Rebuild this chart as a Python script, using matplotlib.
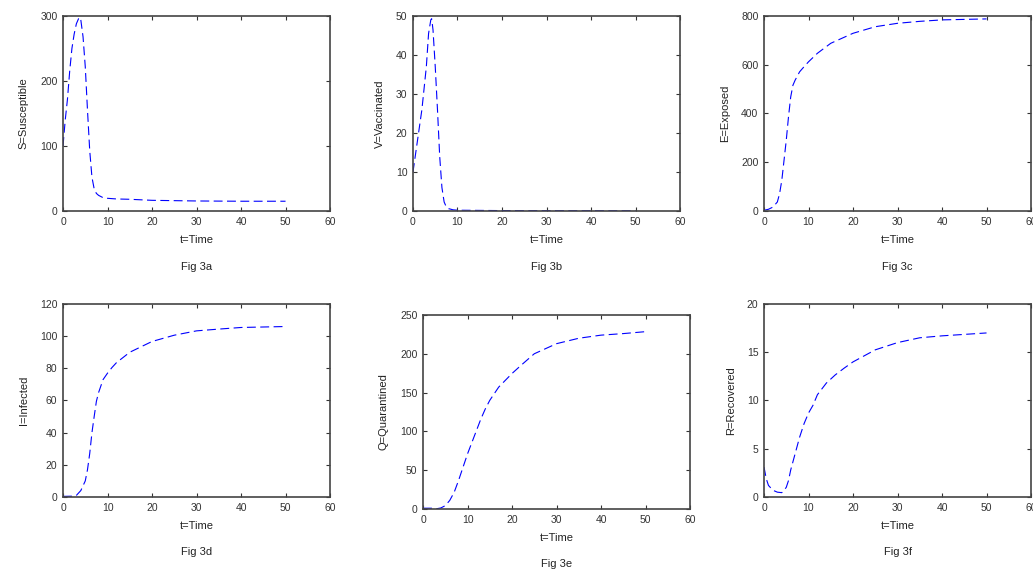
import matplotlib.pyplot as plt
import numpy as np

plt.rcParams['font.family'] = ['Liberation Sans', 'DejaVu Sans']

# valores
t_s = [0, 0.5, 1, 1.5, 2, 2.5, 3, 3.5, 3.8, 4, 4.5, 5, 5.5, 6, 6.5, 7, 7.5, 8, 9, 10, 12, 15, 20, 30, 40, 50]
s_vals = [100, 140, 172, 215, 250, 272, 288, 296, 298, 294, 268, 222, 155, 93, 52, 34, 27, 24, 20.5, 19.5, 18.5, 18, 16.4, 15.4, 15, 15]

t_v = [0, 0.5, 1, 2, 3, 3.5, 4, 4.2, 4.5, 5, 5.5, 6, 6.5, 7, 7.5, 8, 9, 10, 15, 20, 30, 40, 50]
v_vals = [10, 14, 18, 26, 37, 45.5, 49, 49.3, 46.4, 37, 26, 14, 6, 2.3, 1, 0.6, 0.3, 0.2, 0.15, 0.1, 0.08, 0.06, 0.05]

t_e = [0, 1, 2, 3, 3.5, 4, 4.5, 5, 5.5, 6, 6.5, 7, 8, 9, 10, 12, 15, 20, 25, 30, 35, 40, 50]
e_vals = [3, 7, 16, 37, 71, 126, 208, 290, 386, 468, 516, 537, 571, 592, 612, 647, 688, 729, 756, 770, 778, 784, 788]

t_i = [0, 2, 3, 4, 5, 5.5, 6, 6.5, 7, 7.5, 8, 9, 10, 11, 12, 15, 20, 25, 30, 35, 40, 50]
i_vals = [0.4, 0.5, 1, 4, 10, 17, 27, 40, 50, 59.5, 65, 73, 77, 80.5, 83.5, 90, 96.7, 100.6, 103.3, 104.4, 105.4, 106]

t_q = [0, 2, 3, 4, 5, 6, 7, 8, 9, 10, 11, 12, 13, 14, 15, 17, 20, 22, 25, 30, 35, 40, 45, 50]
q_vals = [1, 1, 0.3, 1.3, 4.3, 11, 21.5, 37, 54, 71, 86, 101, 116, 129, 140, 157, 174.6, 185, 200, 213, 220, 224, 226, 228.5]

t_r = [0, 0.5, 1, 2, 3, 4, 4.5, 5, 5.5, 6, 7, 8, 9, 10, 11, 12, 14, 16, 18, 20, 25, 30, 35, 40, 50]
r_vals = [3.1, 1.9, 1.2, 0.7, 0.5, 0.45, 0.7, 1.0, 1.7, 2.8, 4.5, 6.2, 7.6, 8.7, 9.5, 10.6, 11.8, 12.65, 13.35, 14, 15.25, 16, 16.5, 16.7, 17]

paineis = [
    (t_s, s_vals, 'S=Susceptible', 'Fig 3a', [0, 100, 200, 300], 300, [0.061, 0.6305, 0.2585, 0.3415]),
    (t_v, v_vals, 'V=Vaccinated', 'Fig 3b', [0, 10, 20, 30, 40, 50], 50, [0.3998, 0.6305, 0.2585, 0.3415]),
    (t_e, e_vals, 'E=Exposed', 'Fig 3c', [0, 200, 400, 600, 800], 800, [0.7396, 0.6305, 0.2585, 0.3415]),
    (t_i, i_vals, 'I=Infected', 'Fig 3d', [0, 20, 40, 60, 80, 100, 120], 120, [0.061, 0.1296, 0.2585, 0.338]),
    (t_q, q_vals, 'Q=Quarantined', 'Fig 3e', [0, 50, 100, 150, 200, 250], 250, [0.4095, 0.1086, 0.2585, 0.3398]),
    (t_r, r_vals, 'R=Recovered', 'Fig 3f', [0, 5, 10, 15, 20], 20, [0.7396, 0.1296, 0.2585, 0.338]),
]

fig = plt.figure(figsize=(10.33, 5.71), dpi=100)

for t, y, ylab, fig_lab, yt, ymax, pos in paineis:
    ax = fig.add_axes(pos)
    ax.plot(t, y, color='#0000ff', lw=0.8, dashes=(8, 4))
    ax.set_xlim(0, 60)
    ax.set_ylim(0, ymax)
    ax.set_xticks([0, 10, 20, 30, 40, 50, 60])
    ax.set_yticks(yt)
    ax.tick_params(direction='in', top=True, right=True, length=3, width=0.8,
                   labelsize=7.5, colors='#333333', pad=4)
    for sp in ax.spines.values():
        sp.set_color('#444444')
        sp.set_linewidth(1.2)
    ax.set_xlabel('t=Time', fontsize=8, color='#222222', labelpad=6)
    ax.set_ylabel(ylab, fontsize=8, color='#222222', labelpad=8)
    ax.text(0.5, -0.285, fig_lab, transform=ax.transAxes, ha='center', va='center',
            fontsize=8, color='#222222')

plt.savefig('out.png', dpi=100)
